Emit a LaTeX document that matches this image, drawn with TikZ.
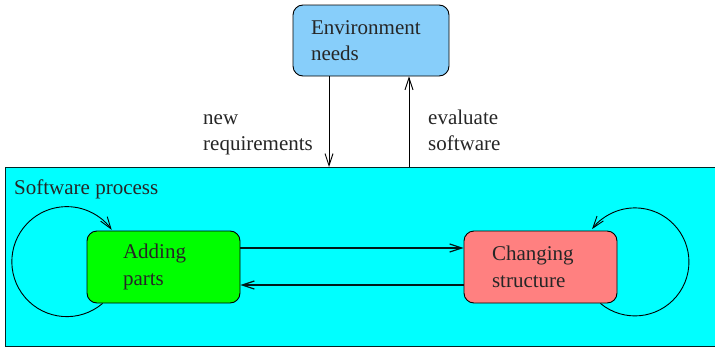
\documentclass[tikz,border=0pt]{standalone}
\usepackage{fontspec}
\setmainfont{Liberation Serif}
\usetikzlibrary{arrows.meta}
\definecolor{envblue}{RGB}{135,206,250}
\definecolor{proccyan}{RGB}{0,255,255}
\definecolor{addgreen}{RGB}{0,255,0}
\definecolor{chgred}{RGB}{255,128,128}
\tikzset{
  box/.style={draw=black, line width=0.9pt, rounded corners=10pt, align=left,
    font=\fontsize{21}{26.5}\selectfont, text=black!85},
  lbl/.style={align=left, font=\fontsize{21}{26.5}\selectfont, inner sep=0pt, text=black!85},
  arr/.style={line width=0.9pt, -{Straight Barb[length=12pt,width=8pt]}},
}
\begin{document}
\begin{tikzpicture}[x=1pt,y=-1pt]
\useasboundingbox (0,0) rectangle (715,348);
% outer process box
\node[draw=black!70!teal, line width=1pt, fill=proccyan, minimum width=710pt, minimum height=179pt, inner sep=0pt, anchor=north west] (proc) at (5,167) {};
\node[lbl, anchor=north west] (plabel) at (14,180) {Software process};
% environment
\node[box, fill=envblue, minimum width=156pt, minimum height=71pt, text width=120pt, inner xsep=18pt] (env) at (371,40.5) {Environment\\needs};
% inner boxes
\node[box, fill=addgreen, minimum width=153pt, minimum height=72pt, text width=81pt, inner xsep=36pt] (add) at (163.5,267) {Adding\\parts};
\node[box, fill=chgred, minimum width=153pt, minimum height=72pt, text width=97pt, inner xsep=28pt] (chg) at (540.5,267) {Changing\\structure};
% labels
\node[lbl, anchor=west] (newreq) at (203,135) {new\\requirements};
\node[lbl, anchor=west] (evalsw) at (428,130.5) {evaluate\\software};
% vertical arrows
\draw[arr] ([xshift=-42pt]env.south) -- ([xshift=-42pt]env.south |- proc.north);
\draw[arr] ([xshift=38pt]env.south |- proc.north) -- ([xshift=38pt]env.south);
% horizontal arrows
\draw[arr, line width=1.2pt, draw=black!80!teal] ([yshift=19pt]add.east) -- ([yshift=19pt]add.east -| chg.west);
\draw[arr, line width=1.2pt, draw=black!80!teal] ([yshift=-18pt]chg.west) -- ([yshift=-18pt]chg.west -| add.east);
% self loops
\draw[arr] ([xshift=16pt]add.south west) arc[start angle=-49.5, end angle=-324.7, radius=55pt];
\draw[arr] ([xshift=-17pt]chg.south east) arc[start angle=-129.7, end angle=142.6, radius=54pt];
\end{tikzpicture}
\end{document}
